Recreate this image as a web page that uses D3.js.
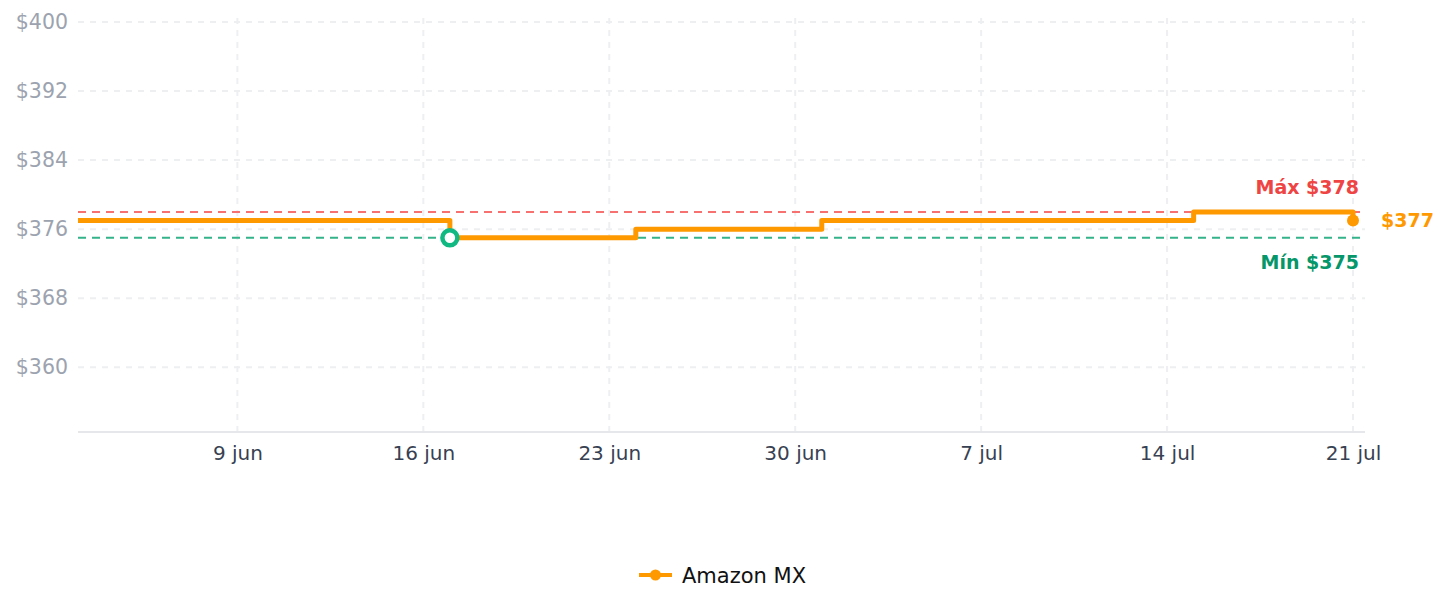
<!DOCTYPE html>
<html lang="es">
<head>
<meta charset="UTF-8">
<title>Historial de precio</title>
<script src="https://d3js.org/d3.v7.min.js"></script>
<style>
  body { margin: 0; background: #fff; font-family: "DejaVu Sans", sans-serif; }
</style>
</head>
<body>
<svg width="1447" height="610"></svg>
<script>
  const dates = ["2024-06-03", "2024-06-17", "2024-06-24", "2024-07-01", "2024-07-15", "2024-07-21"];
  const prices = [377, 375, 376, 377, 378, 377];
  const yTicks = [360, 368, 376, 384, 392, 400];
  const xTickDates = ["2024-06-09", "2024-06-16", "2024-06-23", "2024-06-30", "2024-07-07", "2024-07-14", "2024-07-21"];
  const seriesName = "Amazon MX";

  const parse = d3.utcParse("%Y-%m-%d");
  const data = dates.map((d, i) => ({ date: parse(d), price: prices[i] }));
  const minP = d3.min(prices), maxP = d3.max(prices);
  const minPoint = data.find(d => d.price === minP);
  const last = data[data.length - 1];

  const svg = d3.select("svg");
  const m = { left: 78, right: 1365, top: 22, bottom: 432 };

  const x = d3.scaleUtc()
    .domain([parse(dates[0]), parse("2024-07-21")])
    .range([m.left, 1353]);
  const y = d3.scaleLinear().domain([352.5, 400]).range([m.bottom, m.top]);

  const months = ["ene","feb","mar","abr","may","jun","jul","ago","sep","oct","nov","dic"];
  const fmtDate = d => `${d.getUTCDate()} ${months[d.getUTCMonth()]}`;

  // grid
  svg.append("g").selectAll("line").data(yTicks).join("line")
    .attr("x1", m.left).attr("x2", m.right)
    .attr("y1", d => y(d)).attr("y2", d => y(d))
    .attr("stroke", "#eeeff1").attr("stroke-width", 2).attr("stroke-dasharray", "6,6");
  svg.append("g").selectAll("line").data(xTickDates.map(parse)).join("line")
    .attr("x1", d => x(d)).attr("x2", d => x(d))
    .attr("y1", 18).attr("y2", m.bottom)
    .attr("stroke", "#eeeff1").attr("stroke-width", 2).attr("stroke-dasharray", "6,6");

  // axes
  const yAxis = svg.append("g")
    .attr("transform", `translate(${m.left},0)`)
    .call(d3.axisLeft(y).tickValues(yTicks).tickFormat(d => "$" + d).tickSize(0).tickPadding(10));
  yAxis.select(".domain").remove();
  yAxis.selectAll("text").attr("fill", "#9ca3af").style("font-size", "20.5px").style("font-family", "DejaVu Sans");

  const xAxis = svg.append("g")
    .attr("transform", `translate(0,${m.bottom})`)
    .call(d3.axisBottom(x).tickValues(xTickDates.map(parse)).tickFormat(fmtDate).tickSize(0).tickPadding(14));
  xAxis.select(".domain").remove();
  xAxis.selectAll("text").attr("fill", "#374151").style("font-size", "20px").style("font-family", "DejaVu Sans");
  svg.append("line").attr("x1", m.left).attr("x2", m.right).attr("y1", m.bottom).attr("y2", m.bottom)
    .attr("stroke", "#e5e7eb").attr("stroke-width", 2);

  // min/max reference lines
  svg.append("line").attr("x1", m.left).attr("x2", m.right)
    .attr("y1", y(maxP)).attr("y2", y(maxP))
    .attr("stroke", "#f87171").attr("stroke-width", 2).attr("stroke-dasharray", "8,6");
  svg.append("line").attr("x1", m.left).attr("x2", m.right)
    .attr("y1", y(minP)).attr("y2", y(minP))
    .attr("stroke", "#34b38a").attr("stroke-width", 2).attr("stroke-dasharray", "8,6");

  svg.append("text").attr("x", 1359).attr("y", y(maxP) - 18)
    .attr("text-anchor", "end").attr("fill", "#ef4444")
    .style("font-size", "19px").style("font-weight", "bold")
    .text(`Máx $${maxP}`);
  svg.append("text").attr("x", 1359).attr("y", y(minP) + 31)
    .attr("text-anchor", "end").attr("fill", "#059669")
    .style("font-size", "19px").style("font-weight", "bold")
    .text(`Mín $${minP}`);

  // price line
  const line = d3.line().x(d => x(d.date)).y(d => y(d.price)).curve(d3.curveStepAfter);
  svg.append("path").datum(data)
    .attr("d", line).attr("fill", "none")
    .attr("stroke", "#ff9900").attr("stroke-width", 5).attr("stroke-linejoin", "round");

  // last point + label
  svg.append("circle").attr("cx", x(last.date)).attr("cy", y(last.price)).attr("r", 6).attr("fill", "#ff9900");
  svg.append("text").attr("x", x(last.date) + 28).attr("y", y(last.price) + 6.5)
    .attr("fill", "#ff9900").style("font-size", "19px").style("font-weight", "bold")
    .text(`$${last.price}`);

  // min marker
  svg.append("circle").attr("cx", x(minPoint.date)).attr("cy", y(minPoint.price)).attr("r", 7.5)
    .attr("fill", "#fff").attr("stroke", "#10b981").attr("stroke-width", 4.5);

  // legend
  const lg = svg.append("g").attr("transform", "translate(639,575)");
  lg.append("line").attr("x1", 0).attr("x2", 33).attr("stroke", "#ff9900").attr("stroke-width", 4);
  lg.append("circle").attr("cx", 16.5).attr("r", 5.5).attr("fill", "#ff9900");
  lg.append("text").attr("x", 43).attr("y", 7.5).attr("fill", "#111")
    .style("font-size", "21px").text(seriesName);
</script>
</body>
</html>
